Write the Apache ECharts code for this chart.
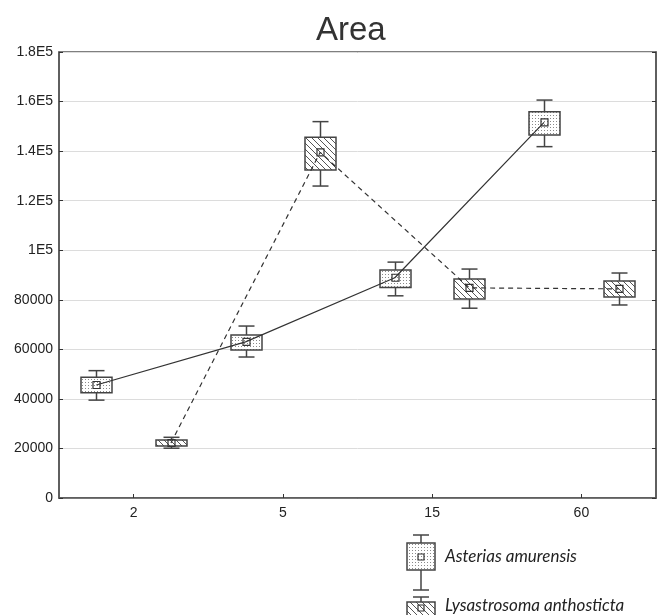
<!DOCTYPE html>
<html><head><meta charset="utf-8">
<script src="https://cdn.jsdelivr.net/npm/echarts@6/dist/echarts.min.js"></script>
<style>html,body{margin:0;padding:0;background:#fff}#c{width:668px;height:615px}</style>
</head><body><div id="c"></div>
<script>
const categories = ['2', '5', '15', '60'];
const yTickLabels = ['0', '20000', '40000', '60000', '80000', '1E5', '1.2E5', '1.4E5', '1.6E5', '1.8E5'];
const seriesNames = ['Asterias amurensis', 'Lysastrosoma anthosticta'];

const asteriasMean      = [45600, 63000, 88900, 151600];
const asteriasBoxLow    = [42500, 59700, 85000, 146500];
const asteriasBoxHigh   = [48700, 65800, 92000, 155900];
const asteriasWhiskLow  = [39500, 56900, 81600, 141800];
const asteriasWhiskHigh = [51400, 69400, 95200, 160600];

const lysaMean      = [22200, 139500, 84800, 84400];
const lysaBoxLow    = [21000, 132400, 80300, 81100];
const lysaBoxHigh   = [23400, 145600, 88400, 87600];
const lysaWhiskLow  = [20100, 125900, 76600, 77900];
const lysaWhiskHigh = [24500, 151900, 92400, 90800];

const groupOffset = [-0.25, 0.25];

function dotPattern() {
  const c = document.createElement('canvas'); c.width = 3; c.height = 3;
  const g = c.getContext('2d');
  g.fillStyle = '#fff'; g.fillRect(0, 0, 3, 3);
  g.fillStyle = '#8a8a8a'; g.fillRect(1, 1, 1, 1);
  return c;
}
function hatchPattern() {
  const c = document.createElement('canvas'); c.width = 6; c.height = 6;
  const g = c.getContext('2d');
  g.fillStyle = '#fff'; g.fillRect(0, 0, 6, 6);
  g.strokeStyle = '#555'; g.lineWidth = 1;
  g.beginPath();
  g.moveTo(-1, -1); g.lineTo(7, 7);
  g.moveTo(-1, 5); g.lineTo(1, 7);
  g.moveTo(5, -1); g.lineTo(7, 1);
  g.stroke();
  return c;
}
const dotFill = { image: dotPattern(), repeat: 'repeat' };
const hatchFill = { image: hatchPattern(), repeat: 'repeat' };
const fills = [dotFill, hatchFill];

function buildRows(off, mean, bl, bh, wl, wh) {
  return mean.map((m, i) => [i + off, m, bl[i], bh[i], wl[i], wh[i]]);
}
const rows = [
  buildRows(groupOffset[0], asteriasMean, asteriasBoxLow, asteriasBoxHigh, asteriasWhiskLow, asteriasWhiskHigh),
  buildRows(groupOffset[1], lysaMean, lysaBoxLow, lysaBoxHigh, lysaWhiskLow, lysaWhiskHigh)
];

const STROKE = '#444';
function makeRender(fill) {
  return function (params, api) {
    const x = api.value(0);
    const pM = api.coord([x, api.value(1)]);
    const pBL = api.coord([x, api.value(2)]);
    const pBH = api.coord([x, api.value(3)]);
    const pWL = api.coord([x, api.value(4)]);
    const pWH = api.coord([x, api.value(5)]);
    const bw = 31, cw = 16, ms = 7;
    const cx = Math.round(pM[0]) + 0.5;
    const ls = { stroke: STROKE, lineWidth: 1.5 };
    return {
      type: 'group', children: [
        { type: 'line', shape: { x1: cx, y1: pWH[1], x2: cx, y2: pBH[1] }, style: ls },
        { type: 'line', shape: { x1: cx, y1: pBL[1], x2: cx, y2: pWL[1] }, style: ls },
        { type: 'line', shape: { x1: cx - cw / 2, y1: pWH[1], x2: cx + cw / 2, y2: pWH[1] }, style: ls },
        { type: 'line', shape: { x1: cx - cw / 2, y1: pWL[1], x2: cx + cw / 2, y2: pWL[1] }, style: ls },
        { type: 'rect', shape: { x: cx - bw / 2, y: pBH[1], width: bw, height: pBL[1] - pBH[1] },
          style: { fill: fill, stroke: STROKE, lineWidth: 1.5 } },
        { type: 'rect', shape: { x: cx - ms / 2, y: pM[1] - ms / 2, width: ms, height: ms },
          style: { fill: 'none', stroke: '#333', lineWidth: 1.2 } }
      ]
    };
  };
}

const chart = echarts.init(document.getElementById('c'), null, { renderer: 'canvas' });
const FONT = 'Liberation Sans, Arial, sans-serif';
const LS = { stroke: STROKE, lineWidth: 1.5 };
const legendTextStyle = { fontFamily: 'Lato, sans-serif', fontStyle: 'italic', fontSize: 17, fill: '#222', textVerticalAlign: 'middle' };

const legendGraphics = [
  // item 1
  { type: 'line', shape: { x1: 421, y1: 535, x2: 421, y2: 590 }, style: LS },
  { type: 'line', shape: { x1: 413, y1: 535, x2: 429, y2: 535 }, style: LS },
  { type: 'line', shape: { x1: 413, y1: 590, x2: 429, y2: 590 }, style: LS },
  { type: 'rect', shape: { x: 407, y: 543, width: 28, height: 27 }, style: { fill: fills[0], stroke: STROKE, lineWidth: 1.5 } },
  { type: 'rect', shape: { x: 418, y: 554, width: 6, height: 6 }, style: { fill: 'none', stroke: '#333', lineWidth: 1.2 } },
  { type: 'text', x: 445, y: 557, style: Object.assign({ text: seriesNames[0] }, legendTextStyle) },
  // item 2
  { type: 'line', shape: { x1: 421, y1: 597, x2: 421, y2: 615 }, style: LS },
  { type: 'line', shape: { x1: 413, y1: 597, x2: 429, y2: 597 }, style: LS },
  { type: 'rect', shape: { x: 407, y: 602, width: 28, height: 20 }, style: { fill: fills[1], stroke: STROKE, lineWidth: 1.5 } },
  { type: 'rect', shape: { x: 418, y: 605, width: 6, height: 6 }, style: { fill: 'none', stroke: '#333', lineWidth: 1.2 } },
  { type: 'text', x: 445, y: 606, style: Object.assign({ text: seriesNames[1] }, legendTextStyle) }
];

chart.setOption({
  animation: false,
  backgroundColor: '#fff',
  title: {
    text: 'Area', left: 311, top: 9,
    textStyle: { fontFamily: FONT, fontSize: 33, fontWeight: 'normal', color: '#333' }
  },
  grid: { left: 59, right: 12, top: 52, bottom: 117, show: true, borderColor: '#555', borderWidth: 1.5, backgroundColor: 'transparent' },
  xAxis: [
    {
      type: 'category', data: categories, boundaryGap: true, position: 'bottom',
      axisLine: { show: true, onZero: false, lineStyle: { color: '#555', width: 1.5 } },
      axisTick: { show: true, inside: true, alignWithLabel: true, length: 4, lineStyle: { color: '#333' } },
      axisLabel: { fontFamily: FONT, fontSize: 14, color: '#222', margin: 8 },
      splitLine: { show: false }
    },
    { type: 'value', min: -0.5, max: 3.5, show: false, axisLine: { onZero: false } }
  ],
  yAxis: [
    {
      type: 'value', min: 0, max: 180000, interval: 20000, position: 'left',
      axisLine: { show: true, onZero: false, lineStyle: { color: '#555', width: 1.5 } },
      axisTick: { show: true, inside: true, length: 4, lineStyle: { color: '#333' } },
      axisLabel: { fontFamily: FONT, fontSize: 14, color: '#222', margin: 6,
        formatter: v => yTickLabels[Math.round(v / 20000)] },
      splitLine: { show: true, lineStyle: { color: '#dcdcdc', width: 1 } }
    },
    {
      type: 'value', min: 0, max: 180000, interval: 20000, position: 'right',
      axisLine: { show: true, onZero: false, lineStyle: { color: '#555', width: 1.5 } },
      axisTick: { show: true, inside: true, length: 4, lineStyle: { color: '#333' } },
      axisLabel: { show: false }, splitLine: { show: false }
    }
  ],
  series: [
    { type: 'custom', name: seriesNames[0], xAxisIndex: 1, yAxisIndex: 0, z: 2,
      renderItem: makeRender(fills[0]), encode: { x: 0, y: [1, 2, 3, 4, 5] }, data: rows[0] },
    { type: 'custom', name: seriesNames[1], xAxisIndex: 1, yAxisIndex: 0, z: 2,
      renderItem: makeRender(fills[1]), encode: { x: 0, y: [1, 2, 3, 4, 5] }, data: rows[1] },
    { type: 'line', name: seriesNames[0], xAxisIndex: 1, yAxisIndex: 0, z: 3, symbol: 'none',
      lineStyle: { color: '#333', width: 1.2, type: 'solid' },
      data: rows[0].map(r => [r[0], r[1]]) },
    { type: 'line', name: seriesNames[1], xAxisIndex: 1, yAxisIndex: 0, z: 3, symbol: 'none',
      lineStyle: { color: '#333', width: 1.2, type: [5, 4] },
      data: rows[1].map(r => [r[0], r[1]]) }
  ],
  graphic: legendGraphics
});
</script></body></html>
